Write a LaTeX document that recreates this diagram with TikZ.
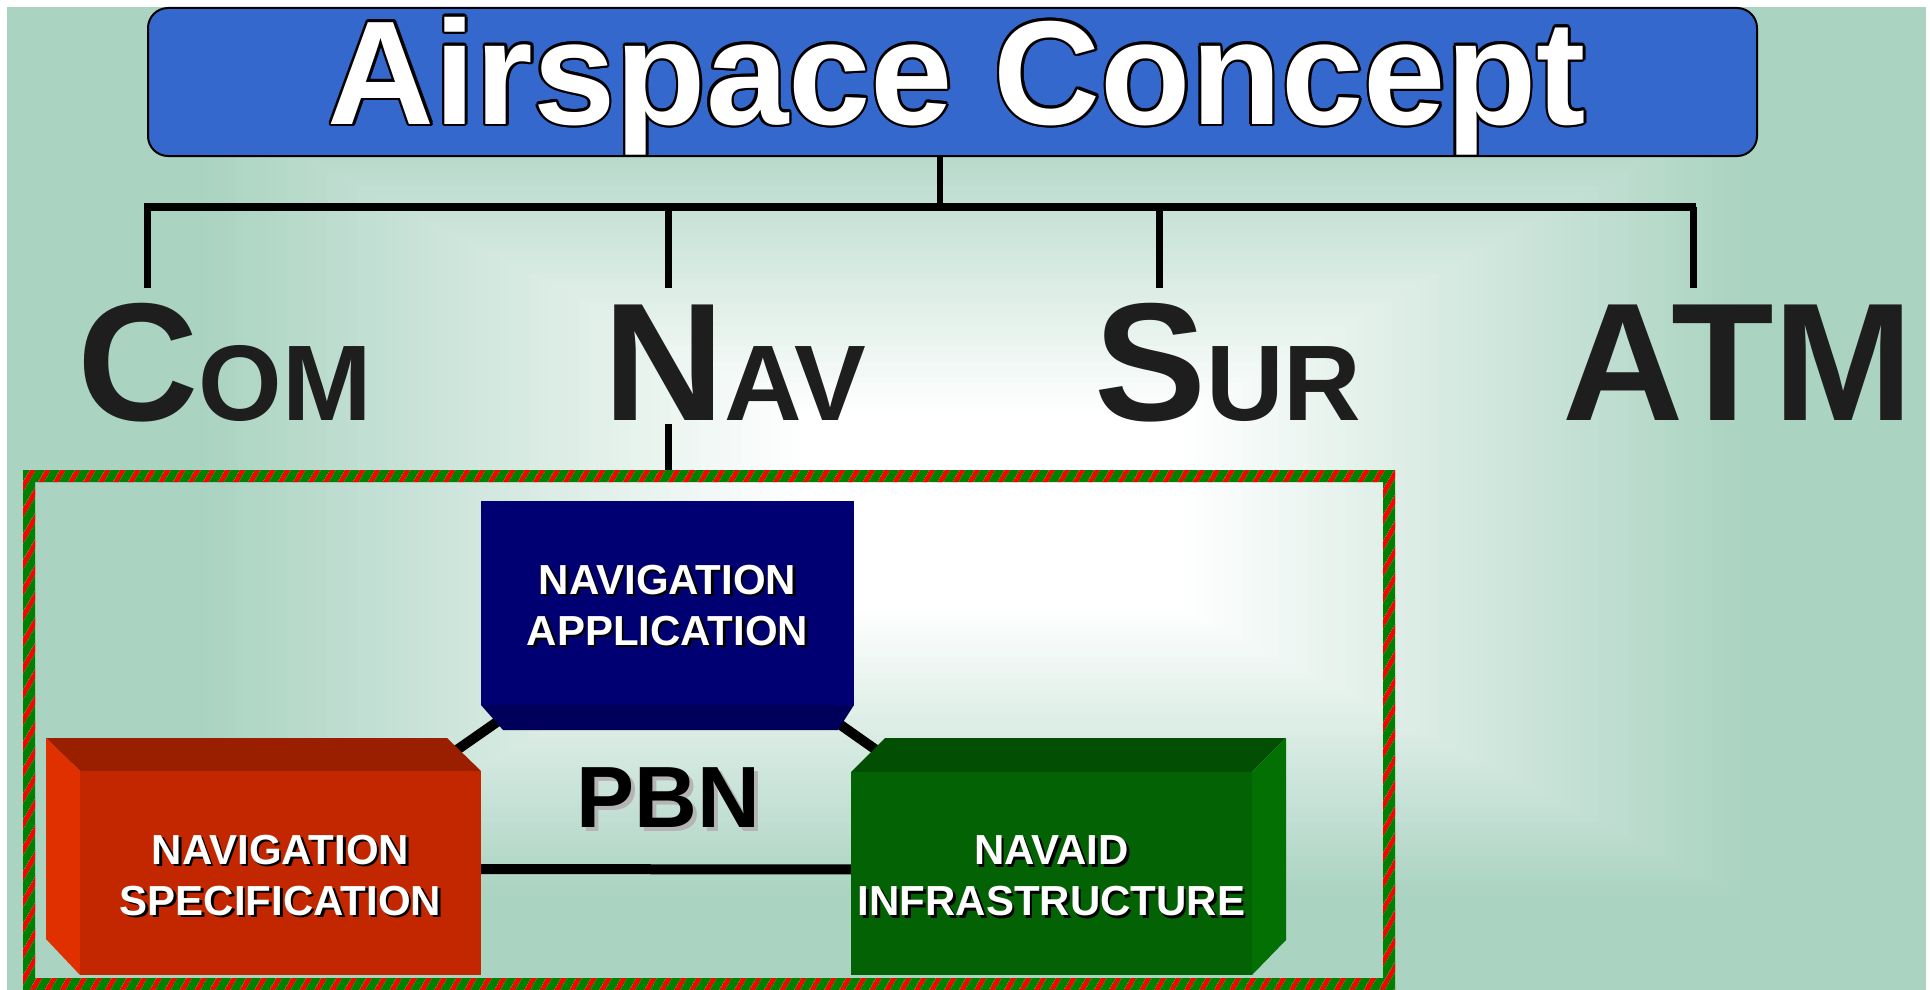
\documentclass[tikz,border=0pt]{standalone}
\usepackage{fontspec}
\setmainfont{Liberation Sans}
\usetikzlibrary{patterns.meta}

\definecolor{bggreen}{HTML}{AAD3C1}
\definecolor{titleblue}{HTML}{3568CC}
\definecolor{labelgray}{HTML}{1E1E1E}
\definecolor{appfront}{HTML}{000073}
\definecolor{appbevel}{HTML}{00005A}
\definecolor{specfront}{HTML}{C32700}
\definecolor{spectop}{HTML}{9A1E00}
\definecolor{specside}{HTML}{E03000}
\definecolor{aidfront}{HTML}{036203}
\definecolor{aidtop}{HTML}{024E02}
\definecolor{aidside}{HTML}{037003}
\definecolor{framegreen}{HTML}{008000}
\definecolor{framered}{HTML}{FF0000}
\definecolor{pbnshadow}{HTML}{B4B4B4}

\pgfdeclarelayer{bg}
\pgfdeclarelayer{links}
\pgfsetlayers{bg,links,main}

% big initial capital followed by smaller capitals
\newcommand\capsword[2]{{\fontsize{168}{168}\selectfont #1}{\fontsize{107.5}{107.5}\selectfont #2}}

\begin{document}
\begin{tikzpicture}[x=1pt,y=-1pt,
  bus/.style={line width=8pt},
  stemline/.style={line width=6pt},
  drop/.style={line width=7pt},
  link/.style={line width=10pt},
  caplabel/.style={inner sep=0pt,anchor=base west,text=labelgray,font=\bfseries},
  titletext/.style={inner sep=0pt,anchor=base,font=\bfseries\fontsize{148}{148}\selectfont},
  boxlabel/.style={inner sep=0pt,align=center,font=\bfseries\fontsize{42}{51}\selectfont},
  face/.style={inner sep=0pt,draw=none},
  pbntext/.style={inner sep=0pt,anchor=base,font=\bfseries\fontsize{87}{87}\selectfont}]

\useasboundingbox (0,0) rectangle (1930,990);

\begin{pgfonlayer}{bg}
  \fill[white] (0,0) rectangle (1930,990);
  % rectangular glow: nested rectangles shrinking toward a focus point
  \begin{scope}
    \clip (7,7) rectangle (1926,990);
    \fill[bggreen] (7,7) rectangle (1926,990);
    \foreach \i in {0,...,60}{
      \pgfmathsetmacro\s{0.81-\i*0.61/60}
      \pgfmathsetmacro\t{max(0,min(100,100*(\s-0.2)/0.61))}
      \fill[bggreen!\t!white] (1000-993*\s,515-508*\s) rectangle (1000+926*\s,515+475*\s);
    }
  \end{scope}
  % striped frame around the PBN group
  \fill[framegreen,even odd rule] (23,470) rectangle (1395,990) (35,482) rectangle (1383,978);
  \fill[pattern={Lines[angle=60,distance=13pt,line width=5pt]},pattern color=framered,even odd rule]
    (23,470) rectangle (1395,990) (35,482) rectangle (1383,978);
\end{pgfonlayer}

% title
\node[rounded corners=20pt,fill=titleblue,draw=black,line width=2pt,
      minimum width=1609pt,minimum height=148pt,inner sep=0pt] (title) at (952.5,82) {};
\coordinate (titlebase) at (957,124);
\foreach \a in {0,30,...,330}
  \node[titletext,text=black] at ([shift={(\a:2.6)}]titlebase) {Airspace Concept};
\node[titletext,text=white] (titlelabel) at (titlebase) {Airspace Concept};

% CNS/ATM labels
\node[caplabel] (com) at (77,420) {\capsword{C}{OM}};
\node[caplabel] (nav) at (603,420) {\capsword{N}{AV}};
\node[caplabel] (sur) at (1094,420) {\capsword{S}{UR}};
\node[caplabel] (atm) at (1562,420) {\capsword{ATM}{}};

% tree connectors
\coordinate (busW) at (144,207);
\coordinate (busE) at (1696,207);
\coordinate (stem) at (940,207);
\coordinate (dropcom) at (147,288);
\coordinate (dropnav) at (668,288);
\coordinate (dropsur) at (1159,288);
\coordinate (dropatm) at (1693,288);
\coordinate (navfoot) at (668,424);
\coordinate (frametop) at (668,470);
\draw[stemline] (stem |- title.south) -- (stem);
\draw[bus] (busW) -- (busE);
\foreach \d in {dropcom,dropnav,dropsur,dropatm}
  \draw[drop] (\d |- busW) -- (\d);
\draw[drop] (navfoot) -- (frametop);

% navigation application
\fill[appbevel] (481,705) -- (854,705) -- (838,730) -- (503,730) -- cycle;
\node[face,fill=appfront,minimum width=373pt,minimum height=204pt] (app) at (667.5,603) {};
% navigation specification
\fill[spectop] (46,738) -- (447,738) -- (481,771) -- (80,771) -- cycle;
\fill[specside] (46,738) -- (80,771) -- (80,975) -- (46,939) -- cycle;
\node[face,fill=specfront,minimum width=401pt,minimum height=204pt] (spec) at (280.5,873) {};
% navaid infrastructure
\fill[aidtop] (885,738) -- (1286,738) -- (1252,772) -- (851,772) -- cycle;
\fill[aidside] (1252,772) -- (1286,738) -- (1286,940) -- (1252,975) -- cycle;
\node[face,fill=aidfront,minimum width=401pt,minimum height=203pt] (aid) at (1051.5,873.5) {};

% PBN triangle behind the boxes
\begin{pgfonlayer}{links}
  \draw[link] (app.center) -- (spec.center);
  \draw[link] (app.center) -- (aid.center);
  \draw[link] ([yshift=4pt]spec.center) -- ([yshift=4pt]aid.center);
\end{pgfonlayer}

% box labels with drop shadow
\node[boxlabel,text=black] at ([shift={(2.5,5)}]app.center) {NAVIGATION\\APPLICATION};
\node[boxlabel,text=white] (applabel) at ([shift={(0,2.5)}]app.center) {NAVIGATION\\APPLICATION};
\node[boxlabel,text=black] at ([shift={(2.5,5)}]spec.center) {NAVIGATION\\SPECIFICATION};
\node[boxlabel,text=white] (speclabel) at ([shift={(0,2.5)}]spec.center) {NAVIGATION\\SPECIFICATION};
\node[boxlabel,text=black] at ([shift={(2.5,5)}]aid.center) {NAVAID\\INFRASTRUCTURE};
\node[boxlabel,text=white] (aidlabel) at ([shift={(0,2.5)}]aid.center) {NAVAID\\INFRASTRUCTURE};

% PBN
\coordinate (pbnbase) at (668,827);
\node[pbntext,text=pbnshadow] at ([shift={(4,4)}]pbnbase) {PBN};
\node[pbntext,text=black] (pbn) at (pbnbase) {PBN};
\end{tikzpicture}
\end{document}
